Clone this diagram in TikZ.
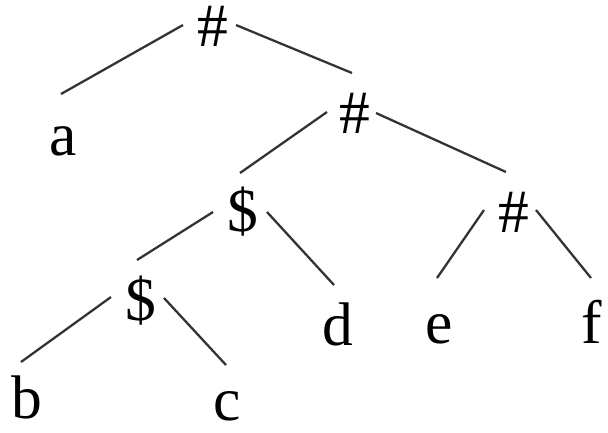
\documentclass[tikz,border=0pt]{standalone}
\usepackage{fontspec}
\setmainfont{Liberation Serif}

\begin{document}
\begin{tikzpicture}
    	[x=0.01cm, y=-0.01cm,
    	 sym/.style={anchor=base, inner sep=0pt, font=\fontsize{17.5}{20}\selectfont},
    	 branch/.style={draw=black!80, line width=0.65pt}]
    	\useasboundingbox (0,0) rectangle (608,432);

    	\node at (213,46) [sym] (rt) {\#};
    	\node at (63,155) [sym] (a) {a};
    	\node at (355,133) [sym] (hashr) {\#};
    	\node at (243,231) [sym] (dol) {\$};
    	\node at (514,232) [sym] (hashrr) {\#};
    	\node at (141,320) [sym] (doll) {\$};
    	\node at (338,345) [sym] (d) {d};
    	\node at (439,343) [sym] (e) {e};
    	\node at (592,343) [sym] (f) {f};
    	\node at (27,418) [sym] (b) {b};
    	\node at (227,420) [sym] (c) {c};

    	\draw [branch] ([shift={(-30,-21)}]rt.base) -- ([shift={(-2,-61)}]a.base);
    	\draw [branch] ([shift={(23,-21)}]rt.base) -- ([shift={(-3,-60)}]hashr.base);

    	\draw [branch] ([shift={(-28,-21)}]hashr.base) -- ([shift={(-3,-58)}]dol.base);
    	\draw [branch] ([shift={(21,-20)}]hashr.base) -- ([shift={(-8,-60)}]hashrr.base);

    	\draw [branch] ([shift={(-30,-19)}]dol.base) -- ([shift={(-4,-60)}]doll.base);
    	\draw [branch] ([shift={(24,-19)}]dol.base) -- ([shift={(-4,-60)}]d.base);

    	\draw [branch] ([shift={(-30,-22)}]hashrr.base) -- ([shift={(-2,-65)}]e.base);
    	\draw [branch] ([shift={(22,-22)}]hashrr.base) -- ([shift={(-1,-65)}]f.base);

    	\draw [branch] ([shift={(-30,-23)}]doll.base) -- ([shift={(-6,-56)}]b.base);
    	\draw [branch] ([shift={(23,-22)}]doll.base) -- ([shift={(-1,-55)}]c.base);
\end{tikzpicture}
\end{document}
